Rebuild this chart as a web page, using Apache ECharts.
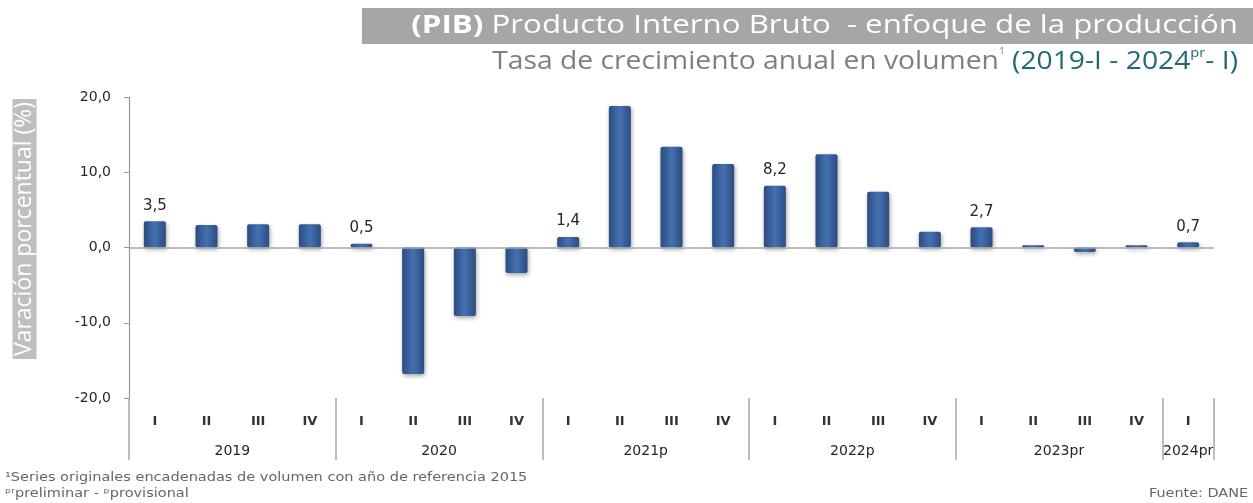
<!DOCTYPE html>
<html>
<head>
<meta charset="utf-8">
<script src="https://cdn.jsdelivr.net/npm/echarts@6/dist/echarts.min.js"></script>
<style>html,body{margin:0;padding:0;background:#fff}#c{width:1253px;height:503px}</style>
</head>
<body>
<div id="c"></div>
<script>
// ---- data ----
const quarters = ['I','II','III','IV','I','II','III','IV','I','II','III','IV','I','II','III','IV','I','II','III','IV','I'];
const years = ['2019','2020','2021p','2022p','2023pr','2024pr'];
const yearSpans = [4,4,4,4,4,1];
const values = [3.5,3.0,3.1,3.1, 0.5,-16.8,-9.1,-3.4, 1.4,18.8,13.4,11.1, 8.2,12.4,7.4,2.1, 2.7,0.3,-0.6,0.3, 0.7];
const yTicks = [-20,-10,0,10,20];

// ---- helpers ----
const yearLabelAt = {};
const yearHalf = {};
const yearStarts = [];
let s = 0;
years.forEach((y,i)=>{
  const n = yearSpans[i];
  yearStarts.push(s);
  const off = (n-1)/2;
  const idx = s + Math.floor(off);
  yearLabelAt[idx] = y;
  yearHalf[idx] = (off - Math.floor(off)) > 0;
  s += n;
});
yearStarts.push(s);
const cats = quarters.map((q,i)=>i+'-'+q);
const fmt = v => v.toFixed(1).replace('.', ',');

const gridLeft = 129, gridRight = 39;
const catW = (1253 - gridLeft - gridRight) / cats.length;

const chart = echarts.init(document.getElementById('c'));
chart.setOption({
  animation:false,
  backgroundColor:'#fff',
  grid:{left:gridLeft,right:gridRight,top:97,bottom:105,containLabel:false},
  graphic:[
    {type:'rect',shape:{x:362,y:8,width:891,height:36},style:{fill:'#A6A6A6'},silent:true},
    {type:'text',x:1238,y:26,scaleX:1.25,style:{
      text:'{b|(PIB)}{n| Producto Interno Bruto  - enfoque de la producción}',
      align:'right',verticalAlign:'middle',
      rich:{
        b:{fontFamily:'Open Sans',fontSize:25,fontWeight:'bold',fill:'#fff'},
        n:{fontFamily:'Open Sans',fontSize:25,fill:'#fff'}
      }}},
    {type:'text',x:1238,y:62,scaleX:1.13,style:{
      text:'{g|Tasa de crecimiento anual en volumen}{gs|1}{t| (2019-I - 2024}{ts|pr}{t|- I)}',
      align:'right',verticalAlign:'middle',
      rich:{
        g:{fontFamily:'Open Sans',fontSize:25,fill:'#7F7F7F',lineHeight:30},
        gs:{fontFamily:'Open Sans',fontSize:9,fill:'#7F7F7F',lineHeight:18,verticalAlign:'top'},
        t:{fontFamily:'Open Sans',fontSize:25,fill:'#1F6B73',lineHeight:30},
        ts:{fontFamily:'Open Sans',fontSize:13,fill:'#1F6B73',lineHeight:16,verticalAlign:'top'}
      }}},
    {type:'text',x:24.5,y:229,rotation:Math.PI/2,style:{
      text:'Varación porcentual (%)',align:'center',verticalAlign:'middle',
      fontFamily:'Open Sans',fontSize:23,fill:'#fff',backgroundColor:'#BFBFBF',padding:[1,3,0,3]}},
    {type:'text',x:5,y:478,scaleX:1.21,style:{text:'¹Series originales encadenadas de volumen con año de referencia 2015',
      fontFamily:'DejaVu Sans',fontSize:12,fill:'#666',verticalAlign:'middle'}},
    {type:'text',x:5,y:494,scaleX:1.21,style:{text:'ᵖʳpreliminar - ᵖprovisional',
      fontFamily:'DejaVu Sans',fontSize:12,fill:'#666',verticalAlign:'middle'}},
    {type:'text',x:1248,y:494,scaleX:1.2,style:{text:'Fuente: DANE',align:'right',
      fontFamily:'DejaVu Sans',fontSize:12,fill:'#666',verticalAlign:'middle'}}
  ],
  xAxis:[
    {type:'category',data:cats,position:'bottom',axisLine:{show:false,onZero:false},axisTick:{show:false},
     axisLabel:{interval:0,margin:17,formatter:(v,i)=>quarters[i],fontFamily:'DejaVu Sans',fontWeight:'bold',fontSize:13,color:'#333'}},
    {type:'category',data:cats,position:'bottom',axisLine:{show:false,onZero:false},
     axisTick:{show:true,alignWithLabel:false,length:62,interval:(i)=>yearStarts.indexOf(i)>=0,lineStyle:{color:'#A6A6A6',width:1.5}},
     axisLabel:{interval:0,margin:46,fontFamily:'DejaVu Sans',fontSize:14,color:'#262626',
       formatter:(v,i)=>{ if(yearLabelAt[i]===undefined) return ''; return (yearHalf[i]?'{h|':'{f|')+yearLabelAt[i]+'}'; },
       rich:{h:{padding:[0,0,0,catW],fontFamily:'DejaVu Sans',fontSize:14,color:'#262626'},f:{fontFamily:'DejaVu Sans',fontSize:14,color:'#262626'}}}}
  ],
  yAxis:{type:'value',min:-20,max:20,interval:10,
    axisLine:{show:true,lineStyle:{color:'#999',width:1.2}},
    axisTick:{show:true,inside:false,length:5,lineStyle:{color:'#999'}},
    splitLine:{show:false},
    axisLabel:{margin:18,formatter:v=>fmt(v),fontFamily:'DejaVu Sans',fontSize:14,color:'#262626'}},
  series:[{
    type:'bar',data:values,barWidth:22,xAxisIndex:0,
    itemStyle:{
      borderRadius:2,
      color:{type:'linear',x:0,y:0,x2:1,y2:0,colorStops:[{offset:0,color:'#2C4C80'},{offset:0.5,color:'#4471B1'},{offset:1,color:'#2C4C80'}]},
      shadowColor:'rgba(0,0,0,0.35)',shadowBlur:4,shadowOffsetX:1,shadowOffsetY:2
    },
    label:{show:true,position:'top',distance:8,fontFamily:'DejaVu Sans',fontSize:15,color:'#262626',
      formatter:p=> yearStarts.indexOf(p.dataIndex)>=0 ? fmt(p.value) : ''},
    markLine:{silent:true,symbol:'none',label:{show:false},lineStyle:{color:'#A6A6A6',width:1.5,type:'solid'},
      data:[{yAxis:0}]}
  }]
});
</script>
</body>
</html>
